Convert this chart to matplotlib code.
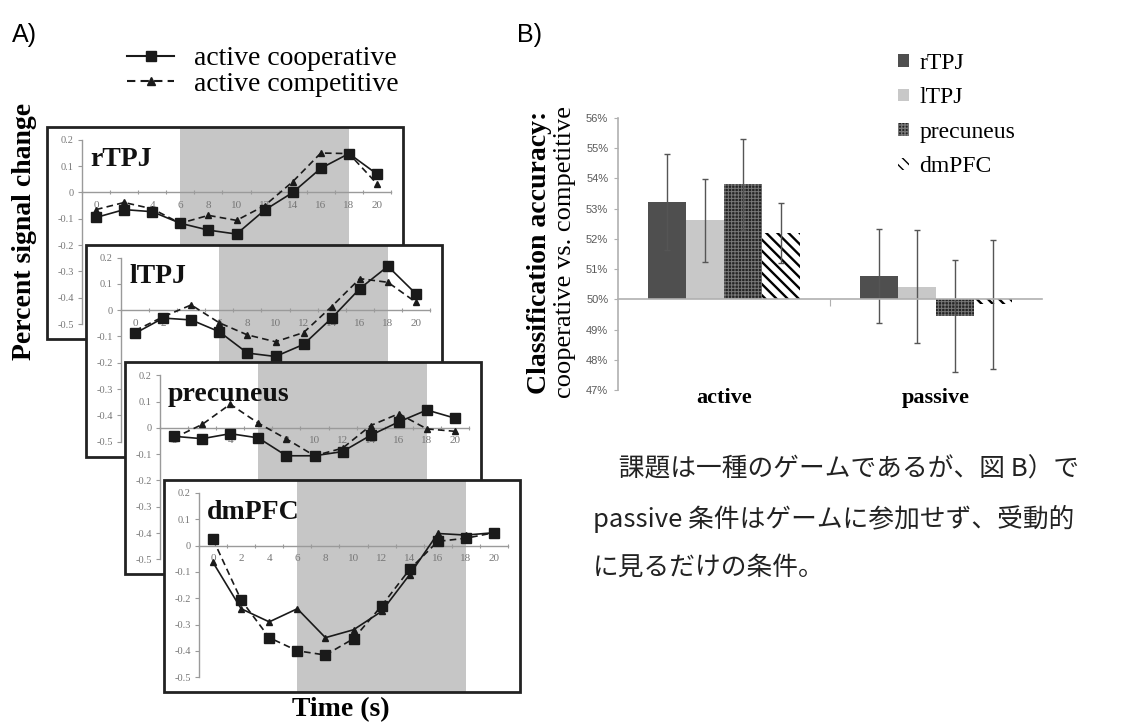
import matplotlib
matplotlib.use("Agg")
import matplotlib.pyplot as plt
from matplotlib.patches import Rectangle
from matplotlib.lines import Line2D
from matplotlib.transforms import blended_transform_factory

# ---- data, panel A (percent signal change) ----
times = [0, 2, 4, 6, 8, 10, 12, 14, 16, 18, 20]
regions = ["rTPJ", "lTPJ", "precuneus", "dmPFC"]
rtpj_coop = [-0.095, -0.065, -0.073, -0.117, -0.143, -0.158, -0.067, 0.0, 0.092, 0.148, 0.07]
rtpj_comp = [-0.065, -0.038, -0.062, -0.117, -0.087, -0.106, -0.05, 0.041, 0.15, 0.148, 0.033]
ltpj_coop = [-0.088, -0.03, -0.037, -0.082, -0.163, -0.176, -0.13, -0.03, 0.082, 0.167, 0.062]
ltpj_comp = [-0.078, -0.025, 0.02, -0.048, -0.094, -0.12, -0.085, 0.014, 0.12, 0.106, 0.03]
prec_coop = [-0.032, -0.041, -0.022, -0.038, -0.106, -0.106, -0.09, -0.028, 0.023, 0.068, 0.037]
prec_comp = [-0.038, 0.013, 0.09, 0.018, -0.042, -0.106, -0.077, 0.009, 0.054, -0.004, -0.013]
dmpfc_sq = [0.024, -0.207, -0.35, -0.40, -0.416, -0.354, -0.229, -0.09, 0.016, 0.028, 0.049]
dmpfc_tri = [-0.064, -0.24, -0.29, -0.24, -0.35, -0.32, -0.25, -0.11, 0.046, 0.04, 0.049]
yticks_a = [-0.5, -0.4, -0.3, -0.2, -0.1, 0, 0.1, 0.2]
ylabels_a = ["-0.5", "-0.4", "-0.3", "-0.2", "-0.1", "0", "0.1", "0.2"]
legend_a = ["active cooperative", "active competitive"]

# ---- data, panel B (classification accuracy, %) ----
conditions = ["active", "passive"]
acc_rtpj = [53.22, 50.77]
acc_ltpj = [52.62, 50.41]
acc_prec = [53.80, 49.44]
acc_dmpfc = [52.20, 49.83]
err_rtpj = [1.6, 1.55]
err_ltpj = [1.37, 1.87]
err_prec = [1.5, 1.85]
err_dmpfc = [1.0, 2.14]
yticks_b = [47, 48, 49, 50, 51, 52, 53, 54, 55, 56]

note_lines = ["\u3000課題は一種のゲームであるが、図 B）で",
              "passive 条件はゲームに参加せず、受動的",
              "に見るだけの条件。"]

plt.rcParams["font.family"] = ["Liberation Serif", "DejaVu Serif"]
plt.rcParams["hatch.linewidth"] = 1.0

W, H = 1132, 722
fig = plt.figure(figsize=(W / 100, H / 100), dpi=100)


def box(left, top, w, h):
    return [left / W, 1 - (top + h) / H, w / W, h / H]


# ---------------- panel A ----------------
series = [(rtpj_coop, rtpj_comp, False), (ltpj_coop, ltpj_comp, False),
          (prec_coop, prec_comp, False), (dmpfc_sq, dmpfc_tri, True)]
for i, (name, (sq, tri, swap)) in enumerate(zip(regions, series)):
    ax = fig.add_axes(box(47 + 39 * i, 127 + 117.7 * i, 356, 212))
    ax.set_zorder(i + 1)
    ax.set_facecolor("white")
    ax.set_xlim(-3.49, 21.85)
    ax.set_ylim(-0.557, 0.249)
    ax.axvspan(6, 18, color="#c6c6c6", lw=0, zorder=0)
    sq_ls = "--" if swap else "-"
    tri_ls = "-" if swap else "--"
    ax.plot(times, sq, color="#1a1a1a", ls=sq_ls, lw=1.2, marker="s", ms=6.5,
            zorder=4, dashes=(4, 2.5) if swap else (None, None))
    ax.plot(times, tri, color="#1a1a1a", ls=tri_ls, lw=1.2, marker="^", ms=5,
            zorder=4, dashes=(None, None) if swap else (4, 2.5))
    ax.text(43 / 356, 1 - 32 / 212, name, transform=ax.transAxes, fontsize=20,
            fontweight="bold", ha="left", va="center", color="#111", zorder=2)
    for s in ["top", "right"]:
        ax.spines[s].set_visible(False)
    ax.spines["left"].set_position(("data", -1))
    ax.spines["left"].set_bounds(-0.5, 0.2)
    ax.spines["bottom"].set_position(("data", 0))
    ax.spines["bottom"].set_bounds(-1, 21)
    for s in ["left", "bottom"]:
        ax.spines[s].set_color("#9a9a9a")
        ax.spines[s].set_linewidth(1)
    ax.set_yticks(yticks_a, labels=ylabels_a)
    ax.tick_params(axis="y", length=3, color="#9a9a9a", labelsize=7.5,
                   labelcolor="#777777", pad=3)
    ax.set_xticks(range(-1, 22, 2), labels=[])
    ax.set_xticks(times, labels=[str(t) for t in times], minor=True)
    ax.tick_params(axis="x", which="major", length=3, direction="inout",
                   color="#9a9a9a")
    ax.tick_params(axis="x", which="minor", length=0, labelsize=8,
                   labelcolor="#777777", pad=6)
    ax.add_patch(Rectangle((0, 0), 1, 1, transform=ax.transAxes, fill=False,
                           lw=2, ec="#222222", zorder=10, clip_on=False))

handles_a = [Line2D([], [], color="#1a1a1a", ls="-", lw=1.5, marker="s", ms=6.5),
             Line2D([], [], color="#1a1a1a", ls="--", lw=1.5, marker="^", ms=6,
                    dashes=(4, 2.5))]
fig.legend(handles_a, legend_a, loc="upper left", bbox_to_anchor=(127 / W, 1 - 46 / H),
           frameon=False, fontsize=20, handlelength=1.7, handletextpad=0.72,
           labelspacing=0.0, borderaxespad=0, borderpad=0)

fig.text(12 / W, 1 - 35 / H, "A)", fontsize=18, family="Liberation Sans",
         ha="left", va="center")
fig.text(517 / W, 1 - 35 / H, "B)", fontsize=18, family="Liberation Sans",
         ha="left", va="center")
fig.text(25 / W, 1 - 231 / H, "Percent signal change", rotation=90, fontsize=20,
         fontweight="bold", ha="center", va="center")
fig.text(341 / W, 1 - 710 / H, "Time (s)", fontsize=20, fontweight="bold",
         ha="center", va="center")

# ---------------- panel B ----------------
bx = fig.add_axes(box(618, 118, 424, 272))
bx.set_xlim(-0.5, 1.5)
bx.set_ylim(47, 56)
xs = [0, 1]
bw = 0.18
offs = [-1.5 * bw, -0.5 * bw, 0.5 * bw, 1.5 * bw]
styles = [dict(color="#4f4f4f"), dict(color="#c8c8c8"),
          dict(facecolor="#232323", edgecolor="#777777", hatch="+++++", lw=0),
          dict(facecolor="white", edgecolor="black", hatch="\\\\\\", lw=0)]
hatch_lw = [1.0, 1.0, 0.7, 1.7]
vals = [acc_rtpj, acc_ltpj, acc_prec, acc_dmpfc]
errs = [err_rtpj, err_ltpj, err_prec, err_dmpfc]
for k in range(4):
    pos = [x + offs[k] for x in xs]
    with plt.rc_context({"hatch.linewidth": hatch_lw[k]}):
        bx.bar(pos, [v - 50 for v in vals[k]], bottom=50, width=bw,
               label=regions[k], zorder=2, **styles[k])
    bx.errorbar(pos, vals[k], yerr=errs[k], fmt="none", ecolor="#555555",
                elinewidth=1, capsize=2.5, capthick=1, zorder=3)

for s in ["top", "right"]:
    bx.spines[s].set_visible(False)
bx.spines["bottom"].set_position(("data", 50))
for s in ["left", "bottom"]:
    bx.spines[s].set_color("#b0b0b0")
    bx.spines[s].set_linewidth(1.2)
bx.spines["bottom"].set_zorder(4)
bx.set_yticks(yticks_b, labels=[f"{v}%" for v in yticks_b])
for lab in bx.get_yticklabels():
    lab.set_family("Liberation Sans")
bx.tick_params(axis="y", length=3, color="#b0b0b0", labelsize=8,
               labelcolor="#595959", pad=4)
bx.set_xticks([0.5], labels=[""])
bx.tick_params(axis="x", length=5, direction="out", color="#b0b0b0")
tr = blended_transform_factory(bx.transData, fig.transFigure)
for x, c in zip(xs, conditions):
    bx.text(x, 1 - 398 / H, c, transform=tr, fontsize=16, fontweight="bold",
            ha="center", va="center")

fig.text(540 / W, 1 - 252 / H, "Classification accuracy:", rotation=90,
         fontsize=20, fontweight="bold", ha="center", va="center")
fig.text(565 / W, 1 - 252 / H, "cooperative vs. competitive", rotation=90,
         fontsize=19, ha="center", va="center")

fig.legend(*bx.get_legend_handles_labels(), loc="upper left",
           bbox_to_anchor=(898 / W, 1 - 53 / H), frameon=False, fontsize=17,
           handlelength=0.45, handleheight=0.45, handletextpad=0.45,
           labelspacing=0.57, borderaxespad=0, borderpad=0)

# ---------------- note text ----------------
for j, line in enumerate(note_lines):
    fig.text(593 / W, 1 - (469 + 49.5 * j) / H, line, fontsize=18.5,
             family=["Noto Sans CJK JP", "DejaVu Sans"], ha="left", va="center",
             color="#222222")

fig.savefig("out.png", dpi=100)
